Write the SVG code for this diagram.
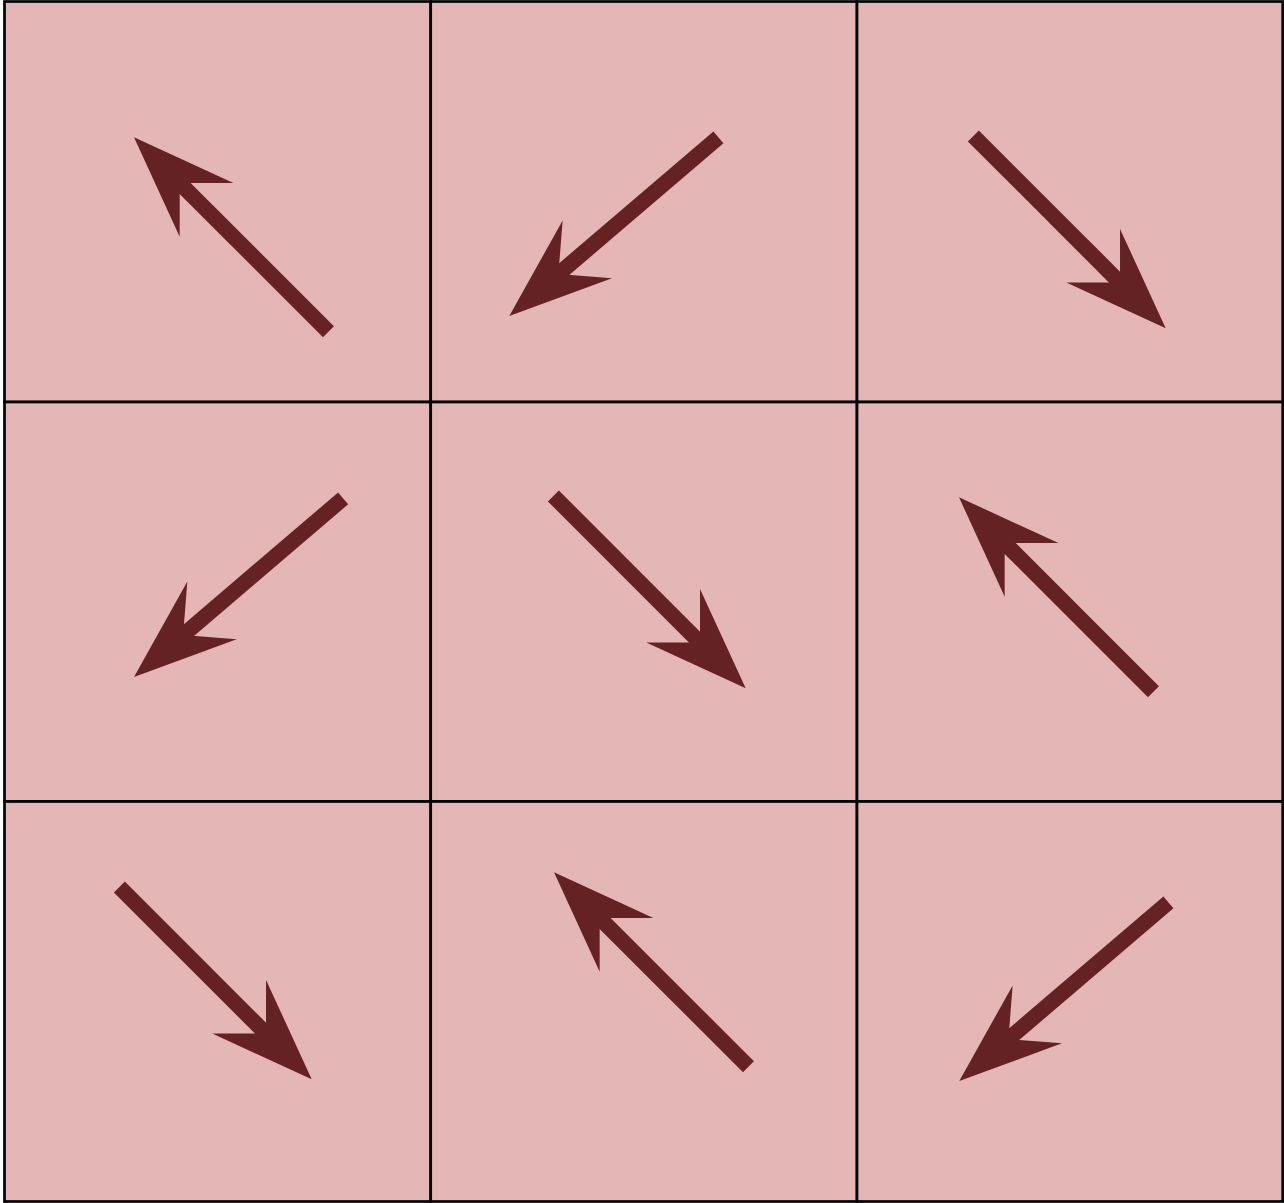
<svg xmlns="http://www.w3.org/2000/svg" xmlns:xlink="http://www.w3.org/1999/xlink" width="1284" height="1203" viewBox="0 0 1284 1203">
  <style>
    .cell { fill: #e4b6b6; stroke: #000; stroke-width: 2.7; }
    .shaft { stroke: #652224; stroke-width: 15.5; stroke-linecap: butt; fill: none; }
    .head { fill: #652224; stroke: none; }
  </style>
  <defs>
    <g id="arrow">
      <line class="shaft" x1="-272" y1="0" x2="-50" y2="0"/>
      <polygon class="head" points="0,0 -102.6,-38 -64.6,0 -102.6,38"/>
    </g>
    <g id="arrow-long">
      <line class="shaft" x1="-275" y1="0" x2="-50" y2="0"/>
      <polygon class="head" points="0,0 -102.6,-38 -64.6,0 -102.6,38"/>
    </g>
  </defs>
  <rect x="0" y="0" width="1284" height="1203" fill="#ffffff"/>
  <g id="cells">
    <rect id="cell-r1c1" class="cell" x="4.5" y="1.5" width="426.2" height="400.5"/>
    <rect id="cell-r1c2" class="cell" x="430.7" y="1.5" width="426.3" height="400.5"/>
    <rect id="cell-r1c3" class="cell" x="857" y="1.5" width="425.7" height="400.5"/>
    <rect id="cell-r2c1" class="cell" x="4.5" y="402" width="426.2" height="399.5"/>
    <rect id="cell-r2c2" class="cell" x="430.7" y="402" width="426.3" height="399.5"/>
    <rect id="cell-r2c3" class="cell" x="857" y="402" width="425.7" height="399.5"/>
    <rect id="cell-r3c1" class="cell" x="4.5" y="801.5" width="426.2" height="400"/>
    <rect id="cell-r3c2" class="cell" x="430.7" y="801.5" width="426.3" height="400"/>
    <rect id="cell-r3c3" class="cell" x="857" y="801.5" width="425.7" height="400"/>
  </g>
  <g id="arrows">
    <use id="arrow-1" xlink:href="#arrow-long" href="#arrow-long" transform="translate(134,137.3) rotate(225)"/>
    <use id="arrow-2" xlink:href="#arrow-long" href="#arrow-long" transform="translate(509.3,316) rotate(139.5)"/>
    <use id="arrow-3" xlink:href="#arrow" href="#arrow" transform="translate(1165.7,328.3) rotate(45)"/>
    <use id="arrow-4" xlink:href="#arrow-long" href="#arrow-long" transform="translate(134,677) rotate(139.5)"/>
    <use id="arrow-5" xlink:href="#arrow" href="#arrow" transform="translate(745.7,688.3) rotate(45)"/>
    <use id="arrow-6" xlink:href="#arrow-long" href="#arrow-long" transform="translate(959,497.3) rotate(225)"/>
    <use id="arrow-7" xlink:href="#arrow" href="#arrow" transform="translate(311.7,1079.3) rotate(45)"/>
    <use id="arrow-8" xlink:href="#arrow-long" href="#arrow-long" transform="translate(554,872.3) rotate(225)"/>
    <use id="arrow-9" xlink:href="#arrow-long" href="#arrow-long" transform="translate(959.3,1081) rotate(139.5)"/>
  </g>
</svg>
